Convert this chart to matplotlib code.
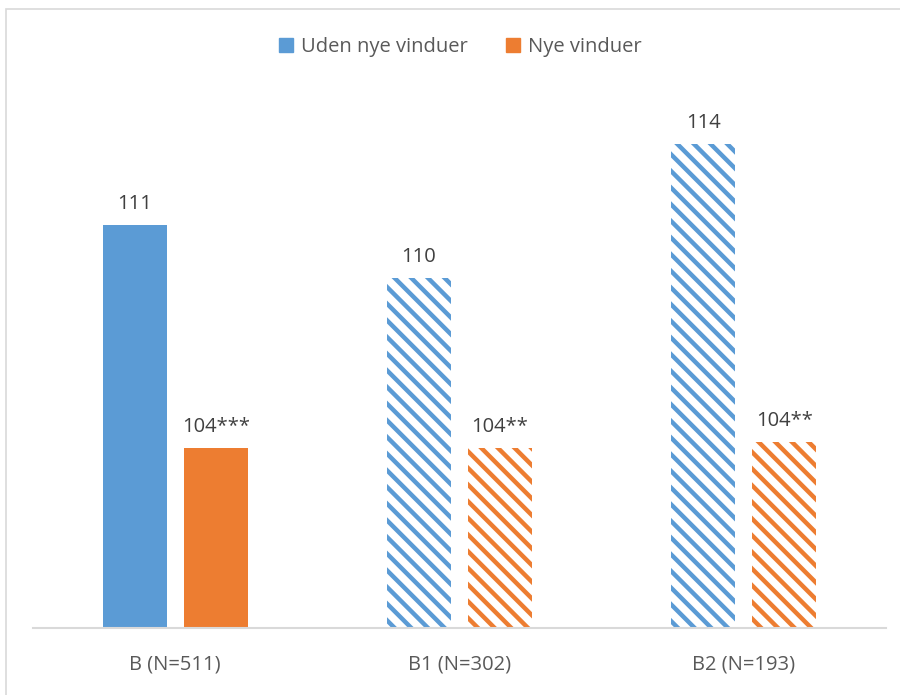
import matplotlib
matplotlib.use("Agg")
import matplotlib.pyplot as plt
import numpy as np
from matplotlib.patches import Rectangle, Patch

# data
groups = ["B (N=511)", "B1 (N=302)", "B2 (N=193)"]
uden = [111.0, 109.3, 113.6]
nye = [103.8, 103.8, 104.0]
uden_lbl = ["111", "110", "114"]
nye_lbl = ["104***", "104**", "104**"]
hatched = [False, True, True]

blue = "#5b9bd5"
orange = "#ed7d31"

plt.rcParams["font.family"] = ["Open Sans", "DejaVu Sans"]
plt.rcParams["hatch.linewidth"] = 3.2

fig = plt.figure(figsize=(9, 6.95), dpi=100)
ax = fig.add_axes([33 / 900, 67 / 695, 853 / 900, 558 / 695])

x = np.arange(len(groups))
w = 0.225
off = 0.1425

for i in range(len(groups)):
    for val, lbl, col, dx in [(uden[i], uden_lbl[i], blue, -off), (nye[i], nye_lbl[i], orange, off)]:
        if hatched[i]:
            b = ax.bar(x[i] + dx, val - 98, w, bottom=98, facecolor="white",
                       edgecolor=col, linewidth=0, hatch="\\\\")
        else:
            b = ax.bar(x[i] + dx, val - 98, w, bottom=98, color=col, linewidth=0)
        ax.annotate(lbl, (x[i] + dx, val), xytext=(0, 8), textcoords="offset points",
                    ha="center", va="bottom", fontsize=14.5, color="#404040")

ax.set_xlim(-0.5, 2.5)
ax.set_ylim(98, 116)
ax.set_xticks(x)
ax.set_xticklabels(groups, fontsize=14.5, color="#595959")
ax.tick_params(axis="x", length=0, pad=19)
ax.set_yticks([])
for s in ["top", "right", "left"]:
    ax.spines[s].set_visible(False)
ax.spines["bottom"].set_color("#d9d9d9")
ax.spines["bottom"].set_linewidth(1.5)

handles = [Patch(color=blue, label="Uden nye vinduer"), Patch(color=orange, label="Nye vinduer")]
leg = fig.legend(handles=handles, loc="center", bbox_to_anchor=(460 / 900, 1 - 47 / 695),
                 ncol=2, frameon=False, fontsize=14.5, handlelength=0.7, handleheight=0.7,
                 handletextpad=0.4, columnspacing=1.9)
for t in leg.get_texts():
    t.set_color("#595959")

# chart frame (only left and top edges fall inside the image)
fig.patches.append(Rectangle((5.5 / 900, -0.1), 1.2, 1.1 - 8.5 / 695, transform=fig.transFigure,
                             fill=False, edgecolor="#d9d9d9", linewidth=1.2))

fig.savefig("out.png", dpi=100)
